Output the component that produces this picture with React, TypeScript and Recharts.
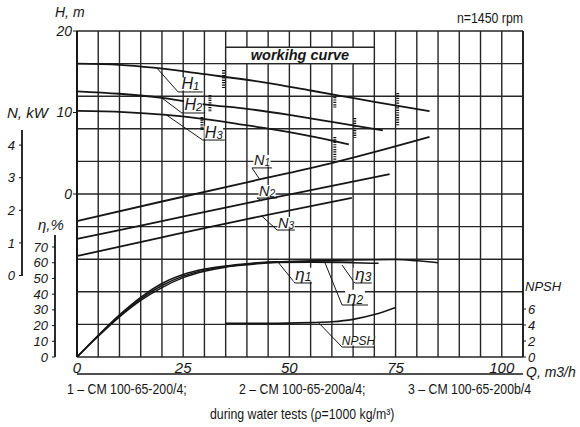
import React from "react";
import {
  LineChart, Line, XAxis, YAxis, CartesianGrid,
  ReferenceLine, ReferenceArea, ReferenceDot,
} from "recharts";

const INK = "#161616";
const GRID = "#262626";
const FONT = "'Liberation Sans', Arial, sans-serif";

// ── grid and axis ticks ──────────────────────────────────────────────────────
const Q_GRID = [0, 5, 10, 15, 20, 25, 30, 35, 40, 45, 50, 55, 60, 65, 70, 75, 80, 85, 90, 95, 100, 105];
const ROWS = [0, 1, 2, 3, 4, 5, 6, 7, 8, 9, 10, 11, 12, 13, 14, 15, 16, 17, 18, 19, 20];
const Q_TICKS = [0, 25, 50, 75, 100];
const H_TICKS = [0, 10, 20];
const N_TICKS = [0, 1, 2, 3, 4];
const ETA_TICKS = [0, 10, 20, 30, 40, 50, 60, 70];
const NPSH_TICKS = [0, 2, 4, 6];

// ── head H, m ────────────────────────────────────────────────────────────────
const Q_H1 = [0, 10, 18, 30, 44, 55, 62, 70, 83];
const H1 = [16.0, 15.85, 15.5, 14.7, 13.7, 12.7, 12.05, 11.3, 10.15];
const Q_H2 = [0, 10, 20, 30, 40, 50, 60, 72];
const H2 = [12.6, 12.3, 11.8, 11.0, 10.45, 9.7, 8.85, 7.8];
const Q_H3 = [0, 11, 21, 30, 44, 54, 64];
const H3 = [10.2, 10.05, 9.7, 9.2, 8.1, 7.2, 6.1];

// ── power N, kW ──────────────────────────────────────────────────────────────
const Q_N1 = [0, 20, 40, 50, 60, 83];
const N1 = [1.67, 2.27, 2.86, 3.15, 3.45, 4.25];
const Q_N2 = [0, 20, 40, 60, 73.6];
const N2 = [1.12, 1.67, 2.22, 2.75, 3.11];
const Q_N3 = [0, 20, 40, 64.7];
const N3 = [0.6, 1.17, 1.73, 2.38];

// ── efficiency η, % ──────────────────────────────────────────────────────────
const Q_E1 = [0, 5, 10, 15, 20, 25, 30, 35, 40, 47, 55, 65, 75, 80, 85];
const E1 = [0, 13.5, 26, 37, 45.5, 51.5, 55.3, 57.6, 59.1, 60.5, 61.2, 61.8, 62, 61.2, 60];
const Q_E2 = [0, 5, 10, 15, 20, 25, 30, 35, 40, 47, 55, 65, 71];
const E2 = [0, 13.2, 25.5, 36, 44.2, 50.5, 54.6, 57.2, 58.7, 60.1, 60.3, 60, 59.6];
const Q_E3 = [0, 5, 10, 15, 20, 25, 30, 35, 40, 47, 55, 65];
const E3 = [0, 13.8, 26.8, 38, 46.8, 52.5, 56, 58, 59.4, 60.7, 60.7, 60.3];

// ── NPSH, m ──────────────────────────────────────────────────────────────────
const Q_NPSH = [35, 45, 55, 60, 65, 70, 75];
const NPSH = [4.2, 4.2, 4.3, 4.4, 4.7, 5.3, 6.2];

// curve labels: point on curve -> elbow -> end of underline (Q, grid row)
const TAGS = [
  { name: "H", sub: "1", at: [18.8, 17.73], elbow: [23.8, 16.26], end: 29.6, size: 16 },
  { name: "H", sub: "2", at: [20.0, 15.89], elbow: [24.7, 14.97], end: 30.1, size: 16 },
  { name: "H", sub: "3", at: [20.7, 14.91], elbow: [29.6, 13.31], end: 34.8, size: 16 },
  { name: "N", sub: "1", at: [43.1, 10.86], elbow: [41.2, 11.6], end: 45.9, size: 14.5 },
  { name: "N", sub: "2", at: [43.5, 9.57], elbow: [42.4, 9.75], end: 47.1, size: 14.5 },
  { name: "N", sub: "3", at: [43.5, 8.65], elbow: [47.1, 7.79], end: 51.3, size: 14.5 },
  { name: "η", sub: "1", at: [47.3, 5.83], elbow: [51.3, 4.54], end: 55.3, size: 17 },
  { name: "η", sub: "2", at: [58.4, 5.77], elbow: [62.4, 3.19], end: 68.5, size: 17 },
  { name: "η", sub: "3", at: [62.4, 5.64], elbow: [65.4, 4.54], end: 69.4, size: 17 },
  { name: "NPSH", sub: "", at: [56.7, 2.15], elbow: [62.4, 0.61], end: 70.1, size: 12 },
];

// hatched limits of the working range (Q, row from, row to)
const LIMITS = [
  [34.5, 17.6, 16.5], [75.5, 16.2, 14.2], [60.7, 15.95, 15.3],
  [31.3, 16.07, 15.03], [65.4, 14.66, 13.44],
  [29.4, 14.72, 13.93], [60.7, 13.5, 11.96],
];

const pts = (q: number[], v: number[]) => q.map((x, i) => ({ q: x, v: v[i] }));

const tickFont = (size: number) => ({ fontSize: size, fontStyle: "italic", fill: INK, fontFamily: FONT });

function tagShape(name: string, sub: string, size: number) {
  return (p: any) => {
    const w = (name.length * 0.62 + sub.length * 0.42) * size;
    return (
      <g>
        <rect x={p.cx - w / 2 - 1} y={p.cy - size * 0.9} width={w + 2} height={size * 0.9 - 1.5} fill="#fff" />
        <text x={p.cx} y={p.cy - 2.5} textAnchor="middle" fontFamily={FONT} fontStyle="italic" fontSize={size} fill={INK}>
          {name}
          {sub && <tspan fontSize={size * 0.7} dy={1}>{sub}</tspan>}
        </text>
      </g>
    );
  };
}

const bandText = (p: any) => (
  <text x={p.cx} y={p.cy + 5} textAnchor="middle" fontFamily={FONT} fontStyle="italic" fontWeight="bold" fontSize={14.5} fill={INK}>
    workihg curve
  </text>
);

const abs = (left: number, top: number, size: number, extra: React.CSSProperties = {}): React.CSSProperties => ({
  position: "absolute", left, top, fontSize: size, lineHeight: 1, whiteSpace: "nowrap", color: INK, ...extra,
});
const narrow: React.CSSProperties = { transform: "scaleX(0.82)", transformOrigin: "left top" };

// left axes are laid out by id order: l1 next to the plot, then l2, then l3
export default function App() {
  return (
    <div style={{ position: "relative", width: 580, height: 427, background: "#fff", fontFamily: FONT }}>
      <style>{"body{margin:0}"}</style>
      <LineChart width={580} height={427} margin={{ top: 31, right: 0, bottom: 43, left: 0 }}>
        <CartesianGrid xAxisId="q" yAxisId="u" verticalValues={Q_GRID} horizontalValues={ROWS} stroke={GRID} strokeWidth={1.4} />

        <XAxis xAxisId="q" type="number" dataKey="q" domain={[0, 105]} ticks={Q_TICKS} interval={0} allowDataOverflow
          height={17} axisLine={false} tickLine={false} tickSize={0} tickMargin={5} tick={tickFont(15)} />
        <XAxis xAxisId="ql" type="number" dataKey="q" domain={[0, 105]} ticks={Q_TICKS} interval={0} allowDataOverflow
          height={10} axisLine={{ stroke: INK, strokeWidth: 1.5 }} tickLine={{ stroke: INK }} tickSize={3} tick={false} />

        <YAxis yAxisId="l1" type="number" domain={[-20, 20]} ticks={H_TICKS} interval={0} allowDataOverflow width={22}
          axisLine={{ stroke: INK, strokeWidth: 2 }} tickLine={{ stroke: INK }} tickSize={4} tickMargin={1} tick={tickFont(14)} />
        <YAxis yAxisId="l2" type="number" domain={[0, 207.5]} ticks={ETA_TICKS} interval={0} allowDataOverflow width={33}
          axisLine={{ stroke: INK, strokeWidth: 1.8, strokeDasharray: "0 204 130" }} tickLine={{ stroke: INK }}
          tickSize={3} tickMargin={4} tick={tickFont(13)} />
        <YAxis yAxisId="l3" type="number" domain={[-2.5, 7.5]} ticks={N_TICKS} interval={0} allowDataOverflow width={22}
          axisLine={{ stroke: INK, strokeWidth: 1.8, strokeDasharray: "0 99 146 300" }} tickLine={{ stroke: INK }}
          tickSize={3} tickMargin={4} tick={tickFont(13)} />
        <YAxis yAxisId="npsh" orientation="right" type="number" domain={[0, 40.75]} ticks={NPSH_TICKS} interval={0} allowDataOverflow width={57}
          axisLine={{ stroke: INK, strokeWidth: 1.6 }} tickLine={{ stroke: INK }} tickSize={3} tickMargin={2} tick={tickFont(13)} />
        <YAxis yAxisId="u" type="number" domain={[0, 20]} allowDataOverflow hide width={0} />

        <ReferenceArea xAxisId="q" yAxisId="u" x1={35} x2={70} y1={18} y2={19} fill="#fff" fillOpacity={1} stroke={GRID} strokeWidth={1.4} />
        <ReferenceDot xAxisId="q" yAxisId="u" x={52.5} y={18.5} r={0} shape={bandText} />

        <Line xAxisId="q" yAxisId="l1" data={pts(Q_H1, H1)} dataKey="v" type="monotone" stroke={INK} strokeWidth={1.8} dot={false} isAnimationActive={false} />
        <Line xAxisId="q" yAxisId="l1" data={pts(Q_H2, H2)} dataKey="v" type="monotone" stroke={INK} strokeWidth={1.8} dot={false} isAnimationActive={false} />
        <Line xAxisId="q" yAxisId="l1" data={pts(Q_H3, H3)} dataKey="v" type="monotone" stroke={INK} strokeWidth={1.8} dot={false} isAnimationActive={false} />
        <Line xAxisId="q" yAxisId="l3" data={pts(Q_N1, N1)} dataKey="v" type="monotone" stroke={INK} strokeWidth={1.8} dot={false} isAnimationActive={false} />
        <Line xAxisId="q" yAxisId="l3" data={pts(Q_N2, N2)} dataKey="v" type="monotone" stroke={INK} strokeWidth={1.8} dot={false} isAnimationActive={false} />
        <Line xAxisId="q" yAxisId="l3" data={pts(Q_N3, N3)} dataKey="v" type="monotone" stroke={INK} strokeWidth={1.8} dot={false} isAnimationActive={false} />
        <Line xAxisId="q" yAxisId="l2" data={pts(Q_E1, E1)} dataKey="v" type="monotone" stroke={INK} strokeWidth={1.5} dot={false} isAnimationActive={false} />
        <Line xAxisId="q" yAxisId="l2" data={pts(Q_E2, E2)} dataKey="v" type="monotone" stroke={INK} strokeWidth={1.5} dot={false} isAnimationActive={false} />
        <Line xAxisId="q" yAxisId="l2" data={pts(Q_E3, E3)} dataKey="v" type="monotone" stroke={INK} strokeWidth={1.5} dot={false} isAnimationActive={false} />
        <Line xAxisId="q" yAxisId="npsh" data={pts(Q_NPSH, NPSH)} dataKey="v" type="monotone" stroke={INK} strokeWidth={1.6} dot={false} isAnimationActive={false} />

        {LIMITS.map(([q, a, b], i) => (
          <ReferenceLine key={`lim${i}`} xAxisId="q" yAxisId="u" segment={[{ x: q, y: a }, { x: q, y: b }]}
            stroke={INK} strokeWidth={3} strokeDasharray="1.2 1.2" />
        ))}

        {TAGS.map((t, i) => (
          <ReferenceLine key={`ld${i}`} xAxisId="q" yAxisId="u"
            segment={[{ x: t.at[0], y: t.at[1] }, { x: t.elbow[0], y: t.elbow[1] }]} stroke={INK} strokeWidth={1} />
        ))}
        {TAGS.map((t, i) => (
          <ReferenceLine key={`ul${i}`} xAxisId="q" yAxisId="u"
            segment={[{ x: t.elbow[0], y: t.elbow[1] }, { x: t.end, y: t.elbow[1] }]} stroke={INK} strokeWidth={1} />
        ))}
        {TAGS.map((t, i) => (
          <ReferenceDot key={`tx${i}`} xAxisId="q" yAxisId="u" x={(t.elbow[0] + t.end) / 2} y={t.elbow[1]} r={0}
            shape={tagShape(t.name, t.sub, t.size)} />
        ))}
      </LineChart>

      <span style={abs(55, 5, 14, { fontStyle: "italic" })}>H, m</span>
      <span style={abs(7, 105, 15, { fontStyle: "italic" })}>N, kW</span>
      <span style={abs(38, 217, 15, { fontStyle: "italic" })}>η,%</span>
      <span style={abs(525, 280, 13, { fontStyle: "italic" })}>NPSH</span>
      <span style={abs(526, 365, 14, { fontStyle: "italic" })}>Q, m3/h</span>
      <span style={abs(457, 10, 15, narrow)}>n=1450 rpm</span>
      <span style={abs(67, 381, 15, narrow)}>1 – CM 100-65-200/4;</span>
      <span style={abs(239, 381, 15, narrow)}>2 – CM 100-65-200a/4;</span>
      <span style={abs(408, 381, 15, narrow)}>3 – CM 100-65-200b/4</span>
      <span style={abs(210, 406, 15, narrow)}>during water tests (ρ=1000 kg/m³)</span>
    </div>
  );
}
